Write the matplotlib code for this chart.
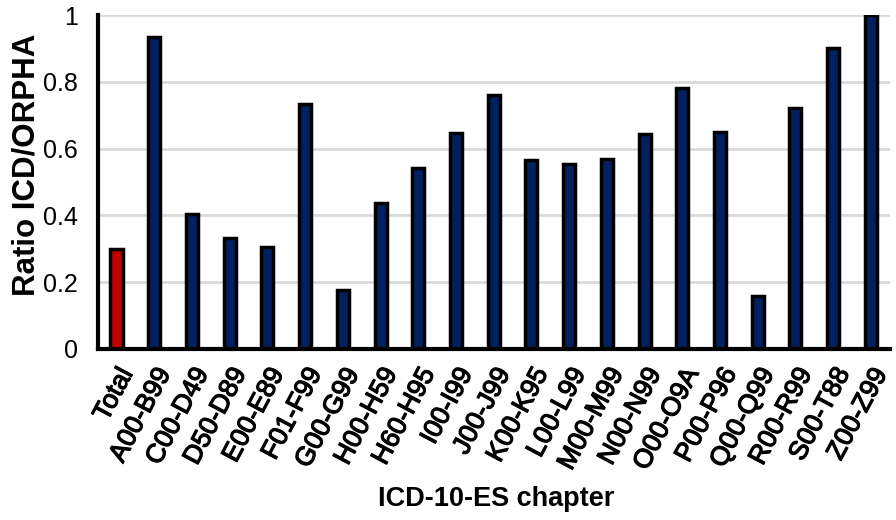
import matplotlib
matplotlib.use("Agg")
from matplotlib import pyplot as plt
from matplotlib import patheffects

# ----------
# Data

chapters = ["Total", "A00-B99", "C00-D49", "D50-D89", "E00-E89", "F01-F99",
            "G00-G99", "H00-H59", "H60-H95", "I00-I99", "J00-J99", "K00-K95",
            "L00-L99", "M00-M99", "N00-N99", "O00-O9A", "P00-P96", "Q00-Q99",
            "R00-R99", "S00-T88", "Z00-Z99"]
ratio = [0.30, 0.935, 0.405, 0.332, 0.305, 0.733, 0.177, 0.437, 0.542, 0.647,
         0.762, 0.566, 0.554, 0.569, 0.644, 0.781, 0.650, 0.159, 0.722, 0.901, 1.0]
y_ticks = [0, 0.2, 0.4, 0.6, 0.8, 1.0]
y_tick_labels = ["0", "0.2", "0.4", "0.6", "0.8", "1"]

# ----------
# Plot

plt.rcParams['font.family'] = ['Liberation Sans', 'DejaVu Sans']

fig = plt.figure(figsize=(8.96, 5.2), dpi=100)
ax = fig.add_axes([0.109, 0.329, 0.884, 0.642])

colors = ["#c00000"] + ["#002060"] * (len(chapters) - 1)
x = range(len(chapters))
ax.bar(x, ratio, width=0.32, color=colors, edgecolor="black", linewidth=2.5, zorder=3)

ax.set_xlim(-0.5, len(chapters) - 0.5)
ax.set_ylim(0, 1)
ax.set_yticks(y_ticks)
ax.set_yticklabels(y_tick_labels, fontsize=18)
ax.set_xticks(list(x))
labels = ax.set_xticklabels(chapters, rotation=62, ha="right", rotation_mode="anchor",
                            fontsize=19)
# x labels are a touch heavier than regular in the original
for t in labels:
    t.set_path_effects([patheffects.withStroke(linewidth=0.9, foreground="black")])
ax.tick_params(length=0)
ax.tick_params(axis="y", pad=14)
ax.tick_params(axis="x", pad=11)

ax.yaxis.grid(True, color="#d9d9d9", linewidth=2, zorder=0)
for s in ["top", "right"]:
    ax.spines[s].set_visible(False)
for s in ["left", "bottom"]:
    ax.spines[s].set_linewidth(3)
    ax.spines[s].set_zorder(4)

ax.set_ylabel("Ratio ICD/ORPHA", fontsize=22.5, fontweight="bold")
ax.yaxis.set_label_coords(-0.071, 0.55)
ax.set_xlabel("ICD-10-ES chapter", fontsize=19.5, fontweight="bold")
ax.xaxis.set_label_coords(0.503, -0.41)

fig.savefig("out.png", dpi=100)
